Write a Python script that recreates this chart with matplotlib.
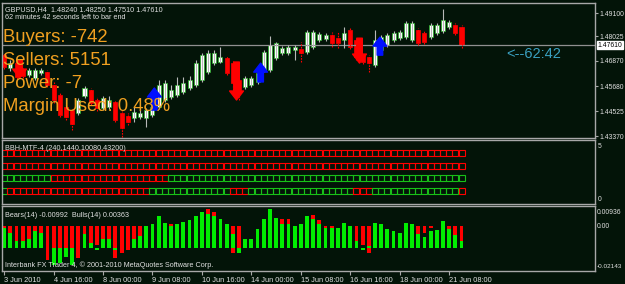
import matplotlib
matplotlib.use('Agg')
import matplotlib.pyplot as plt

BG = '#031408'
FRAME = '#a8a8a8'
TXT = '#e0e0e0'
ORANGE = '#f0a020'

W, H = 625, 284

# GBPUSD H4 candles
opens = [1.4714, 1.4654, 1.4677, 1.4644, 1.4621, 1.4607, 1.4630, 1.4635, 1.4575, 1.4528,
         1.4472, 1.4458, 1.4444, 1.4523, 1.4551, 1.4505, 1.4467, 1.4472, 1.4495, 1.4444,
         1.4430, 1.4421, 1.4426, 1.4421, 1.4435, 1.4472, 1.4505, 1.4519, 1.4528, 1.4542,
         1.4561, 1.4575, 1.4598, 1.4635, 1.4677, 1.4682, 1.4700, 1.4677, 1.4598, 1.4565,
         1.4575, 1.4589, 1.4644, 1.4644, 1.4700, 1.4724, 1.4724, 1.4738, 1.4742, 1.4728,
         1.4752, 1.4784, 1.4789, 1.4807, 1.4793, 1.4784, 1.4831, 1.4784, 1.4714, 1.4705,
         1.4668, 1.4738, 1.4761, 1.4784, 1.4793, 1.4798, 1.4784, 1.4831, 1.4817, 1.4798,
         1.4817, 1.4826, 1.4845, 1.4854, 1.4845]
highs = [1.4724, 1.4691, 1.4686, 1.4654, 1.4654, 1.4654, 1.4654, 1.4644, 1.4589, 1.4542,
         1.4486, 1.4467, 1.4514, 1.4570, 1.4561, 1.4519, 1.4523, 1.4523, 1.4505, 1.4453,
         1.4444, 1.4472, 1.4458, 1.4467, 1.4481, 1.4598, 1.4598, 1.4575, 1.4612, 1.4612,
         1.4616, 1.4691, 1.4724, 1.4738, 1.4738, 1.4752, 1.4710, 1.4686, 1.4607, 1.4616,
         1.4616, 1.4640, 1.4738, 1.4803, 1.4775, 1.4756, 1.4761, 1.4761, 1.4775, 1.4831,
         1.4831, 1.4821, 1.4817, 1.4821, 1.4821, 1.4845, 1.4840, 1.4793, 1.4724, 1.4714,
         1.4831, 1.4807, 1.4817, 1.4826, 1.4831, 1.4873, 1.4873, 1.4840, 1.4826, 1.4863,
         1.4863, 1.4929, 1.4877, 1.4863, 1.4854]
lows = [1.4649, 1.4640, 1.4603, 1.4607, 1.4612, 1.4598, 1.4621, 1.4565, 1.4491, 1.4426,
        1.4412, 1.4365, 1.4435, 1.4514, 1.4481, 1.4453, 1.4458, 1.4463, 1.4402, 1.4332,
        1.4388, 1.4402, 1.4416, 1.4379, 1.4426, 1.4463, 1.4495, 1.4509, 1.4519, 1.4533,
        1.4551, 1.4565, 1.4589, 1.4626, 1.4668, 1.4677, 1.4621, 1.4551, 1.4505, 1.4556,
        1.4565, 1.4579, 1.4635, 1.4635, 1.4691, 1.4714, 1.4714, 1.4691, 1.4682, 1.4719,
        1.4742, 1.4775, 1.4779, 1.4752, 1.4747, 1.4747, 1.4742, 1.4691, 1.4672, 1.4635,
        1.4658, 1.4728, 1.4752, 1.4775, 1.4784, 1.4789, 1.4775, 1.4761, 1.4765, 1.4789,
        1.4807, 1.4817, 1.4835, 1.4807, 1.4747]
closes = [1.4658, 1.4677, 1.4612, 1.4616, 1.4644, 1.4644, 1.4644, 1.4575, 1.4505, 1.4435,
          1.4426, 1.4393, 1.4505, 1.4561, 1.4491, 1.4467, 1.4514, 1.4505, 1.4412, 1.4374,
          1.4402, 1.4449, 1.4444, 1.4458, 1.4472, 1.4575, 1.4584, 1.4551, 1.4575, 1.4584,
          1.4598, 1.4677, 1.4714, 1.4724, 1.4724, 1.4705, 1.4630, 1.4584, 1.4551, 1.4607,
          1.4607, 1.4630, 1.4728, 1.4761, 1.4770, 1.4747, 1.4752, 1.4752, 1.4724, 1.4821,
          1.4821, 1.4812, 1.4807, 1.4770, 1.4770, 1.4817, 1.4752, 1.4705, 1.4682, 1.4677,
          1.4784, 1.4798, 1.4807, 1.4817, 1.4821, 1.4863, 1.4863, 1.4770, 1.4775, 1.4854,
          1.4854, 1.4877, 1.4868, 1.4817, 1.4761]

price_ticks = [1.49100, 1.48025, 1.46870, 1.45680, 1.44525, 1.43370]
last_price = 1.47610

# signal arrows: (bar, start price, end price)
down_arrows = [(2.5, 1.4691, 1.4607), (37.6, 1.4682, 1.4505), (57.5, 1.4793, 1.4677)]
up_arrows = [(24.3, 1.4458, 1.4561), (41.5, 1.4589, 1.4677), (60.8, 1.4714, 1.4798)]

# BBH-MTF-4 rows (colour, run length), top row first
bbh_rows = [
    [('r', 75)],
    [('r', 75)],
    [('g', 8), ('r', 19), ('g', 48)],
    [('g', 1), ('r', 23), ('g', 13), ('r', 3), ('g', 17), ('r', 3), ('g', 14), ('r', 1)],
]

# Bears / Bulls power histogram
bears = [-0.0009, -0.0033, -0.0073, -0.0073, -0.0065, -0.0025, -0.0033, -0.0161, -0.0105, -0.0113,
         -0.0140, -0.0113, -0.0153, -0.0041, -0.0081, -0.0089, -0.0065, -0.0065, -0.0153, -0.0129,
         -0.0113, -0.0065, -0.0049, 0.0, 0.0, 0.0, 0.0, 0.0007, 0.0, 0.0,
         0.0, 0.0, 0.0, 0.0079, 0.0063, 0.0, 0.0, -0.0129, -0.0105, 0.0,
         0.0, 0.0, 0.0, 0.0, 0.0, 0.0031, 0.0031, 0.0, 0.0, 0.0,
         0.0052, 0.0028, -0.0009, -0.0009, 0.0, 0.0, -0.0001, -0.0073, -0.0089, -0.0129,
         0.0, 0.0, 0.0, 0.0, 0.0, 0.0, 0.0, -0.0041, -0.0033, -0.0009,
         0.0, 0.0, -0.0017, -0.0046, -0.0073]
bulls = [-0.0009, -0.0033, -0.0073, -0.0073, -0.0065, -0.0025, -0.0033, -0.0105, -0.0185, -0.0177,
         -0.0150, -0.0185, -0.0105, -0.0041, -0.0081, -0.0113, -0.0065, -0.0065, -0.0113, -0.0105,
         -0.0105, -0.0065, -0.0049, -0.0001, 0.0007, 0.0047, 0.0015, -0.0001, 0.0007, 0.0018,
         0.0028, 0.0047, 0.0063, 0.0055, 0.0047, 0.0031, 0.0007, -0.0041, -0.0129, -0.0065,
         -0.0065, -0.0017, 0.0031, 0.0079, 0.0039, 0.0007, 0.0007, -0.0001, 0.0007, 0.0047,
         0.0031, 0.0007, -0.0009, -0.0009, -0.0009, 0.0012, -0.0001, -0.0073, -0.0113, -0.0097,
         0.0012, 0.0007, -0.0017, -0.0025, -0.0033, 0.0012, 0.0007, -0.0041, -0.0052, -0.0025,
         -0.0020, 0.0023, -0.0017, -0.0046, -0.0073]
bulls_base = -0.0105

date_ticks = [0, 8, 16, 24, 32, 40, 48, 56, 64, 72]
date_labels = ['3 Jun 2010', '4 Jun 16:00', '8 Jun 00:00', '9 Jun 08:00', '10 Jun 16:00',
               '14 Jun 00:00', '15 Jun 08:00', '16 Jun 16:00', '18 Jun 00:00', '21 Jun 08:00']

plt.rcParams['font.family'] = ['Liberation Sans', 'DejaVu Sans']

AXFS = 4.9  # right-hand axis labels, just fit the 625 px width


def panel(fig, top, bottom):
    """Axes from pixel rows top..bottom, x 2..595."""
    ax = fig.add_axes([2 / W, 1 - bottom / H, 593 / W, (bottom - top) / H])
    ax.set_facecolor(BG)
    for s in ax.spines.values():
        s.set_color(FRAME)
        s.set_linewidth(1)
    ax.set_xlim(-0.35, 95.6)
    ax.yaxis.tick_right()
    ax.tick_params(axis='y', direction='out', length=2.5, colors=FRAME, labelcolor=TXT,
                   labelsize=AXFS, pad=0.8)
    ax.tick_params(axis='x', bottom=False, labelbottom=False)
    return ax


def fpos(x, y):
    return x / W, 1 - y / H


fig = plt.figure(figsize=(6.25, 2.84), dpi=100, facecolor=BG)

# ---- main price panel ----
ax = panel(fig, 3, 138)
ax.set_ylim(1.4328, 1.4957)
ax.set_yticks(price_ticks)
ax.set_yticklabels(['%.5f' % p for p in price_ticks])
ax.axhline(last_price, color='#909090', lw=0.9)

n = len(opens)
for i in range(n):
    o, h, l, c = opens[i], highs[i], lows[i], closes[i]
    if c >= o:
        ax.vlines(i, l, h, color='#b8b8b8', lw=0.8)
        ax.bar(i, max(c - o, 0.0002), bottom=o, width=0.65, color='white',
               edgecolor='#20b020', linewidth=0.5)
    else:
        ax.vlines(i, l, h, color='red', lw=0.8, linestyles=(0, (1.5, 1)))
        ax.bar(i, max(o - c, 0.0002), bottom=c, width=0.65, color='red',
               edgecolor='red', linewidth=0.5)

arrow_style = 'simple,head_width=1.0,head_length=0.65,tail_width=0.4'
for b, p0, p1 in down_arrows:
    ax.annotate('', xy=(b, p1), xytext=(b, p0),
                arrowprops=dict(arrowstyle=arrow_style, color='red',
                                mutation_scale=10, shrinkA=0, shrinkB=0))
for b, p0, p1 in up_arrows:
    ax.annotate('', xy=(b, p1), xytext=(b, p0),
                arrowprops=dict(arrowstyle=arrow_style, color='#0010ff',
                                mutation_scale=10, shrinkA=0, shrinkB=0))

# current price box on the axis
ax.text(1.004, last_price, '%.5f' % last_price, transform=ax.get_yaxis_transform(),
        fontsize=AXFS, color='black', va='center', ha='left',
        bbox=dict(boxstyle='square,pad=0.1', fc='white', ec='white'))
ax.text(0.85, 1.4720, '<--62:42', transform=ax.get_yaxis_transform(),
        fontsize=10.5, color='#3aa0c0', va='center', ha='left')

fig.text(*fpos(5, 11), 'GBPUSD,H4  1.48240 1.48250 1.47510 1.47610', fontsize=5.2, color=TXT)
fig.text(*fpos(5, 19), '62 minutes 42 seconds left to bar end', fontsize=5.2, color=TXT)
for k, s in enumerate(['Buyers: -742', 'Sellers: 5151', 'Power: -7', 'Margin Used: 0.48%']):
    fig.text(*fpos(3, 42 + 23 * k), s, fontsize=13.3, color=ORANGE)

# ---- BBH-MTF-4 panel ----
ax1 = panel(fig, 140, 204)
ax1.set_ylim(0, 5)
ax1.set_yticks([])
for r, runs in enumerate(bbh_rows):
    level = 4 - r
    start = 0
    for col, cnt in runs:
        xs = list(range(start, start + cnt))
        ax1.plot(xs, [level] * cnt, ls='none', marker='s', markersize=3.9,
                 markerfacecolor='none', markeredgewidth=0.8,
                 markeredgecolor='red' if col == 'r' else '#18c018')
        start += cnt
fig.text(*fpos(598, 148), '5', fontsize=AXFS, color=TXT)
fig.text(*fpos(598, 201), '0', fontsize=AXFS, color=TXT)
fig.text(*fpos(5, 150), 'BBH-MTF-4 (240,1440,10080,43200)', fontsize=5.2, color=TXT)

# ---- Bears / Bulls panel ----
ax2 = panel(fig, 206, 271)
ax2.set_ylim(-0.02143, 0.00936)
ax2.set_yticks([])
xs = list(range(len(bears)))
ax2.bar(xs, bears, width=0.62, color='red', linewidth=0)
ax2.bar(xs, [g - bulls_base for g in bulls], bottom=bulls_base, width=0.62,
        color='#00ee00', linewidth=0)
fig.text(*fpos(597, 214), '0.00936', fontsize=AXFS, color=TXT)
fig.text(*fpos(597, 228), '0.00', fontsize=AXFS, color=TXT)
fig.text(*fpos(597, 268), '-0.02143', fontsize=AXFS - 0.3, color=TXT)
fig.text(*fpos(5, 217), 'Bears(14) -0.00992  Bulls(14) 0.00363', fontsize=5.2, color=TXT)
fig.text(*fpos(5, 267), 'Interbank FX Trader 4, \u00a9 2001-2010 MetaQuotes Software Corp.',
         fontsize=5.2, color=TXT)

ax2.set_xticks(date_ticks)
ax2.set_xticklabels(date_labels)
ax2.tick_params(axis='x', bottom=True, labelbottom=True, direction='out', length=3,
                colors=FRAME, labelcolor=TXT, labelsize=5.3, pad=1)
for t in ax2.get_xticklabels():
    t.set_ha('left')

fig.savefig('out.png', dpi=100, facecolor=BG)
